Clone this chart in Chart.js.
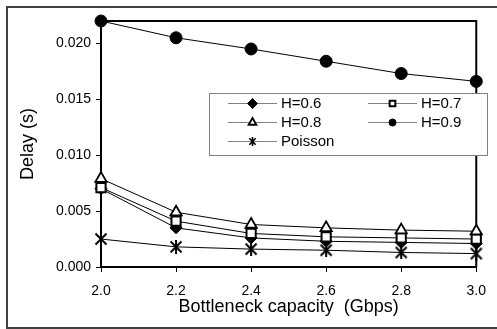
<!DOCTYPE html>
<html><head><meta charset="utf-8">
<script src="https://cdn.jsdelivr.net/npm/chart.js@4/dist/chart.umd.min.js"></script>
<style>html,body{margin:0;padding:0;background:#fff}canvas{display:block}</style>
</head><body>
<canvas id="c" width="497" height="329"></canvas>
<script>
// ---- data ----
const capacities = [2.0, 2.2, 2.4, 2.6, 2.8, 3.0];
const delayH06 = [0.0070, 0.0035, 0.0026, 0.0023, 0.0022, 0.0021];
const delayH07 = [0.0071, 0.0041, 0.0030, 0.0027, 0.0026, 0.0025];
const delayH08 = [0.0079, 0.0049, 0.0038, 0.0035, 0.0033, 0.0032];
const delayH09 = [0.0220, 0.0205, 0.0195, 0.0184, 0.0173, 0.0166];
const delayPoisson = [0.0025, 0.0018, 0.0016, 0.0015, 0.0013, 0.0012];
const seriesLabels = ['H=0.6', 'H=0.7', 'H=0.8', 'H=0.9', 'Poisson'];
const xTickLabels = ['2.0', '2.2', '2.4', '2.6', '2.8', '3.0'];
const yTickLabels = ['0.000', '0.005', '0.010', '0.015', '0.020'];
const xTitle = 'Bottleneck capacity  (Gbps)';
const yTitle = 'Delay (s)';

Chart.defaults.font.family = '"Liberation Sans", Arial, sans-serif';
Chart.defaults.color = '#000';

function asterisk(size, lw) {
  const c = document.createElement('canvas');
  c.width = size; c.height = size;
  const g = c.getContext('2d');
  g.strokeStyle = '#000'; g.lineWidth = lw;
  const m = lw / 2 + 0.5, s = size - m;
  g.beginPath();
  g.moveTo(m, m); g.lineTo(s, s);
  g.moveTo(s, m); g.lineTo(m, s);
  g.moveTo(size / 2, 0); g.lineTo(size / 2, size);
  g.stroke();
  return c;
}
const starBig = asterisk(14, 2);
const starSmall = asterisk(9, 1.6);

const styles = [
  {pointStyle: 'rectRot', pointRadius: 6, bg: '#000', bw: 1, legendRadius: 5},
  {pointStyle: 'rect', pointRadius: 6.5, bg: '#fff', bw: 2, legendRadius: 4},
  {pointStyle: 'triangle', pointRadius: 6.5, bg: '#fff', bw: 1.8, legendRadius: 4.5},
  {pointStyle: 'circle', pointRadius: 6, bg: '#000', bw: 1, legendRadius: 3.5},
  {pointStyle: starBig, pointRadius: 6, bg: '#000', bw: 1, legendRadius: 4, legendImg: starSmall}
];
const seriesValues = [delayH06, delayH07, delayH08, delayH09, delayPoisson];

const datasets = seriesValues.map((vals, i) => ({
  label: seriesLabels[i],
  data: vals.map((v, j) => ({x: capacities[j], y: v})),
  borderColor: '#000',
  borderWidth: 1,
  pointStyle: styles[i].pointStyle,
  pointRadius: styles[i].pointRadius,
  pointBackgroundColor: styles[i].bg,
  pointBorderColor: '#000',
  pointBorderWidth: styles[i].bw,
  pointHoverRadius: styles[i].pointRadius,
  clip: false,
  order: 10 - i,
  tension: 0
}));

const framePlugin = {
  id: 'frame',
  beforeDraw(chart) {
    const ctx = chart.ctx;
    ctx.save();
    ctx.fillStyle = '#fff';
    ctx.fillRect(0, 0, chart.width, chart.height);
    ctx.strokeStyle = '#404040';
    ctx.lineWidth = 2;
    ctx.strokeRect(7, 7, 520, 321);
    ctx.restore();
  },
  beforeDatasetsDraw(chart) {
    const {ctx, chartArea: a} = chart;
    ctx.save();
    ctx.strokeStyle = '#000';
    ctx.lineWidth = 2;
    ctx.beginPath();
    ctx.moveTo(a.left, a.top);
    ctx.lineTo(a.right, a.top);
    ctx.lineTo(a.right, a.bottom);
    ctx.stroke();
    ctx.restore();
  }
};

const legendLayout = {
  box: {x: 209.5, y: 93.5, w: 278, h: 62},
  cols: [{lx: 228, rx: 277, tx: 281}, {lx: 368, rx: 417, tx: 421}],
  rows: [103, 122, 141]
};
const legendPlugin = {
  id: 'customLegend',
  afterDatasetsDraw(chart) {
    const ctx = chart.ctx;
    const L = legendLayout;
    ctx.save();
    ctx.fillStyle = '#fff';
    ctx.fillRect(L.box.x, L.box.y, L.box.w, L.box.h);
    ctx.strokeStyle = '#808080';
    ctx.lineWidth = 1;
    ctx.strokeRect(L.box.x, L.box.y, L.box.w, L.box.h);
    chart.data.datasets.forEach((ds, i) => {
      const col = L.cols[i % 2];
      const y = L.rows[Math.floor(i / 2)];
      ctx.strokeStyle = '#808080';
      ctx.lineWidth = 1;
      ctx.beginPath();
      ctx.moveTo(col.lx, y + 0.5);
      ctx.lineTo(col.rx, y + 0.5);
      ctx.stroke();
      const st = styles[i];
      ctx.fillStyle = st.bg;
      ctx.strokeStyle = '#000';
      ctx.lineWidth = st.bw;
      const mx = (col.lx + col.rx) / 2;
      Chart.helpers.drawPoint(ctx, {
        pointStyle: st.legendImg || st.pointStyle,
        radius: st.legendRadius,
        rotation: 0,
        borderWidth: st.bw
      }, mx, y + 0.5);
      ctx.fillStyle = '#000';
      ctx.font = '15px "Liberation Sans", Arial, sans-serif';
      ctx.textBaseline = 'middle';
      ctx.textAlign = 'left';
      ctx.fillText(ds.label, col.tx, y + 1);
    });
    ctx.restore();
  }
};

new Chart(document.getElementById('c'), {
  type: 'line',
  data: {datasets},
  options: {
    responsive: false,
    animation: false,
    devicePixelRatio: 1,
    layout: {padding: {left: 0, top: 21, right: 9, bottom: 0}},
    plugins: {legend: {display: false}, tooltip: {enabled: false}},
    scales: {
      x: {
        type: 'linear',
        min: 2.0, max: 3.0,
        afterFit(s) { s.height = 62; },
        grid: {drawOnChartArea: false, tickLength: 5, color: '#000', tickWidth: 1},
        border: {color: '#000', width: 2},
        ticks: {
          stepSize: 0.2,
          padding: 11,
          font: {size: 14},
          callback(v) {
            const i = capacities.findIndex(c => Math.abs(c - v) < 1e-6);
            return i >= 0 ? xTickLabels[i] : '';
          }
        },
        title: {display: true, text: xTitle, font: {size: 18}, padding: {top: 0, bottom: 11.5}}
      },
      y: {
        min: 0, max: 0.022,
        afterFit(s) { s.width = 101; },
        afterBuildTicks(s) {
          s.ticks = s.ticks.filter(t => t.value <= 0.02 + 1e-9);
        },
        grid: {drawOnChartArea: false, tickLength: 5, color: '#000', tickWidth: 1},
        border: {color: '#000', width: 2},
        ticks: {
          stepSize: 0.005,
          padding: 5,
          font: {size: 14},
          callback(v) {
            const i = Math.round(v / 0.005);
            return yTickLabels[i] !== undefined ? yTickLabels[i] : '';
          }
        },
        title: {display: true, text: yTitle, font: {size: 18}, padding: {top: 17, bottom: 0}}
      }
    }
  },
  plugins: [framePlugin, legendPlugin]
});
</script>
</body></html>
